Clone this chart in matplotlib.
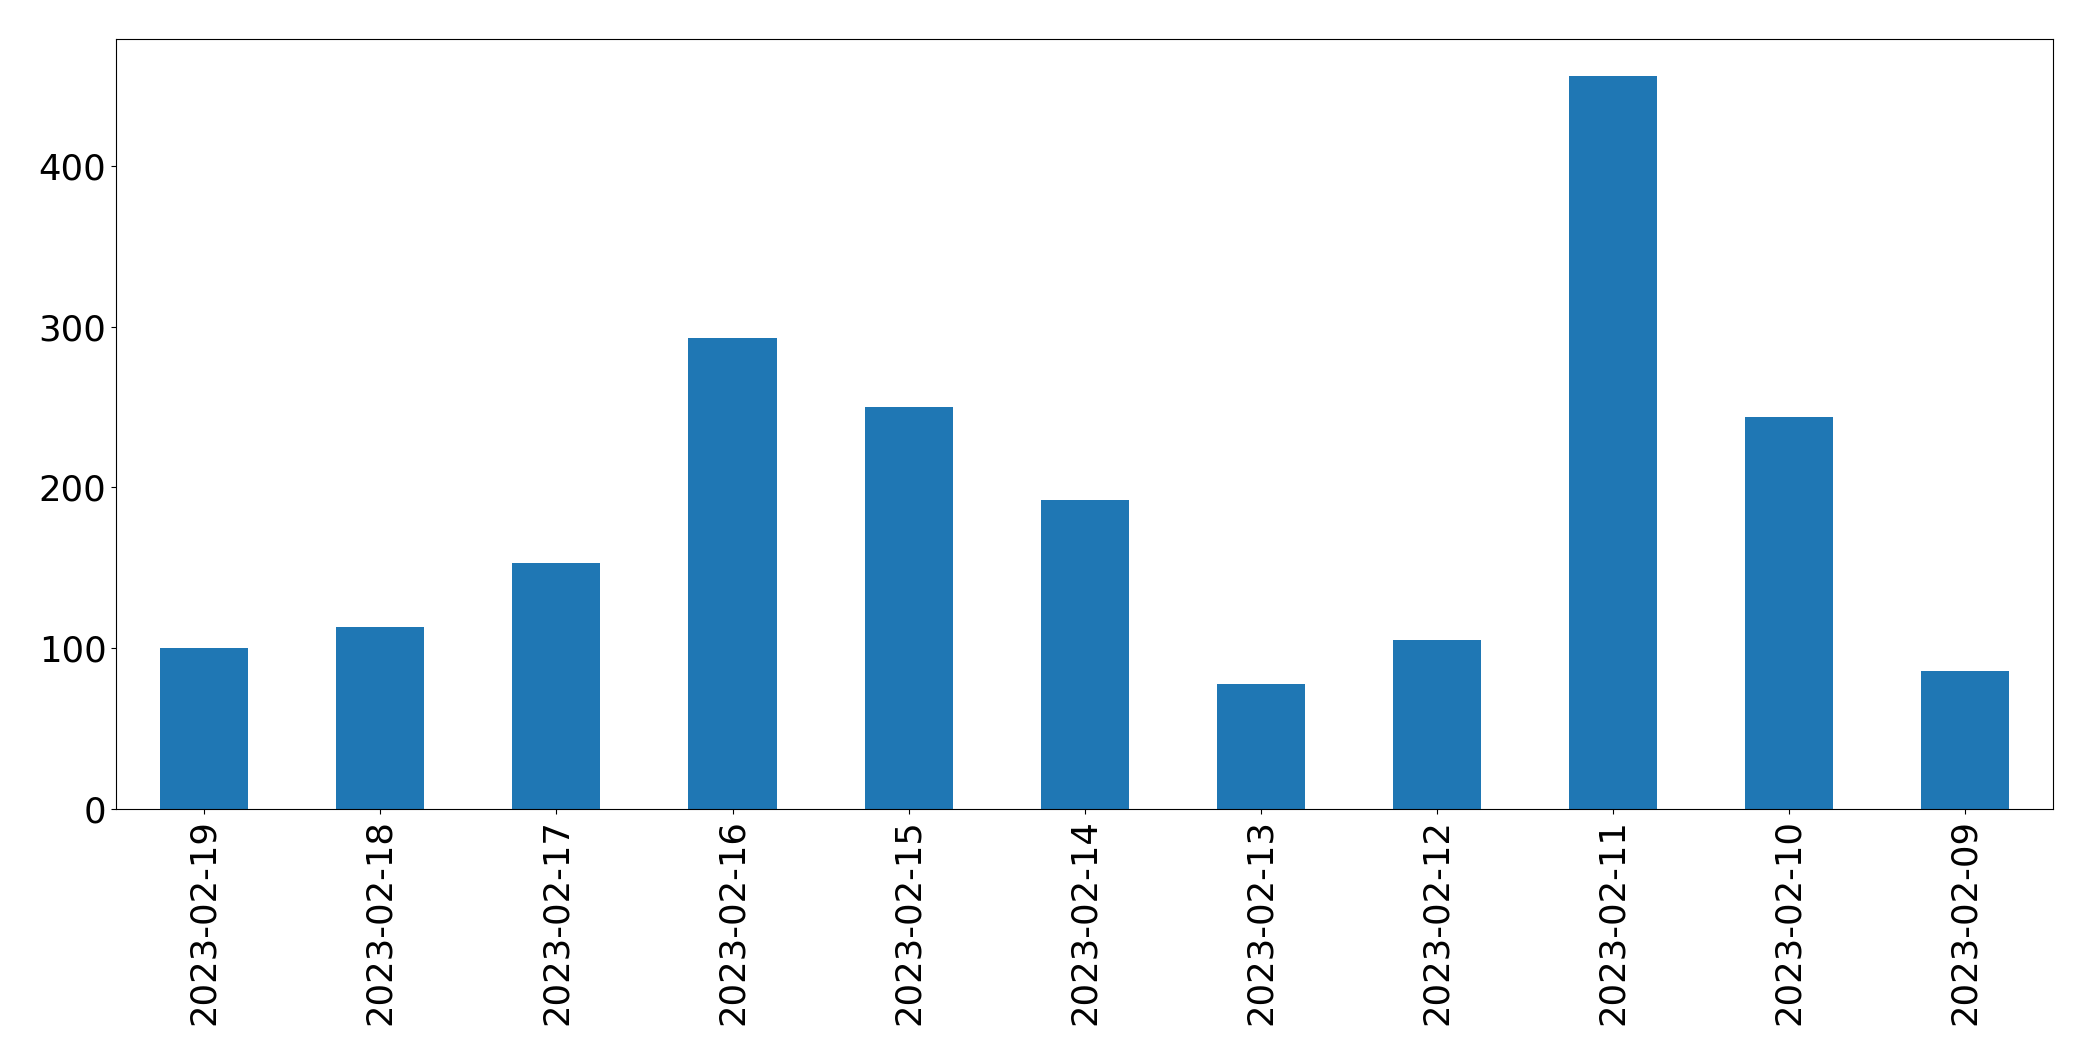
import matplotlib
matplotlib.use('Agg')
import matplotlib.pyplot as plt
import pandas as pd

dates = ['2023-02-19', '2023-02-18', '2023-02-17', '2023-02-16', '2023-02-15',
         '2023-02-14', '2023-02-13', '2023-02-12', '2023-02-11', '2023-02-10',
         '2023-02-09']
counts = [100, 113, 153, 293, 250, 192, 78, 105, 456, 244, 86]

s = pd.Series(counts, index=dates)

fig = plt.figure(figsize=(20.93, 10.61), dpi=100)
ax = fig.add_axes([0.0555, 0.2375, 0.9255, 0.7255])
s.plot(kind='bar', ax=ax, color='#1f77b4', fontsize=25.5)
ax.tick_params(axis='x', labelrotation=90)

fig.savefig('out.png', dpi=100)
